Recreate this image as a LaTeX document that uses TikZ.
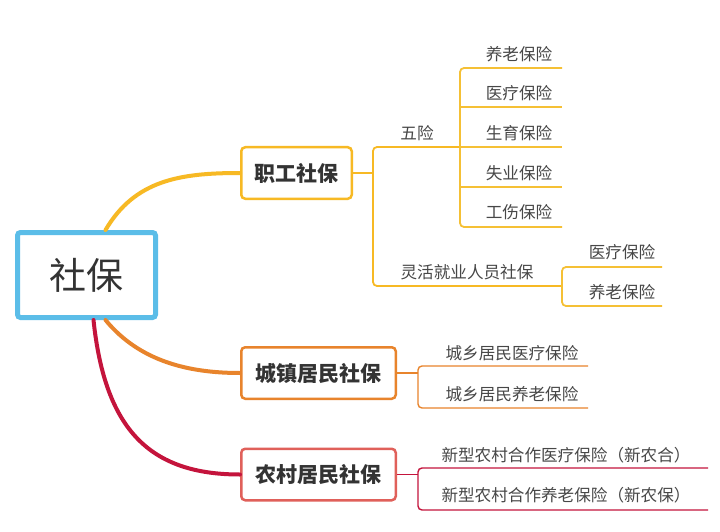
\documentclass[tikz,border=0pt]{standalone}
\usepackage{fontspec}
\setmainfont{Noto Sans CJK SC}
\usetikzlibrary{calc}
\definecolor{rootblue}{RGB}{91,189,232}
\definecolor{yl}{RGB}{247,185,36}
\definecolor{ylthin}{RGB}{245,192,53}
\definecolor{org}{RGB}{232,132,44}
\definecolor{salmon}{RGB}{224,96,90}
\definecolor{crim}{RGB}{196,20,60}
\definecolor{txt}{RGB}{51,51,51}
\tikzset{
  rootbox/.style={draw=rootblue, line width=5pt, rounded corners=3pt, minimum width=138pt, minimum height=85pt, text=txt, font=\fontsize{37}{40}\selectfont, inner sep=0pt},
  mainbox/.style={line width=2.5pt, rounded corners=4pt, minimum height=51.5pt, text=txt, font=\fontsize{21}{24}\selectfont\bfseries, inner sep=0pt},
  leaf/.style={text=txt!90, font=\fontsize{16.6}{18}\selectfont, inner sep=0pt},
  thick1/.style={line width=4pt, line cap=round},
  thin1/.style={line width=1.8pt, rounded corners=4pt},
  thin2/.style={line width=1.4pt, rounded corners=4pt},
}
\begin{document}
\begin{tikzpicture}[x=1pt,y=-1pt]
\useasboundingbox[fill=white] (0,0) rectangle (720,532);

% main nodes
\node[rootbox] (root) at (86.5,275) {社保};
\node[mainbox, draw=yl, minimum width=110.5pt] (zg) at (296.5,173) {职工社保};
\node[mainbox, draw=org, minimum width=154.5pt] (cz) at (318.5,373) {城镇居民社保};
\node[mainbox, draw=salmon, minimum width=154.5pt] (nc) at (318.5,474.5) {农村居民社保};

% root connectors
\draw[thick1, yl] ($(root.north)+(19,0)$) .. controls (135,180) and (180,173) .. (zg.west);
\draw[thick1, org] ($(root.south)+(19,0)$) .. controls (140,362) and (190,373) .. (cz.west);
\draw[thick1, crim] ($(root.south)+(7,0)$) .. controls (105,430) and (150,474.5) .. (nc.west);

% 职工社保 branch
\coordinate (j0) at (373,173);
\draw[thin1, yl] (zg.east) -- (j0);
\draw[thin1, yl] (460,147) -| (373,286) -- (562,286);
\node[leaf] (wx) at (417,133) {五险};
\node[leaf] (lh) at (467,272) {灵活就业人员社保};

% 五险 children
\node[leaf] (w1) at (519,54) {养老保险};
\node[leaf] (w2) at (519,93) {医疗保险};
\node[leaf] (w3) at (519,133) {生育保险};
\node[leaf] (w4) at (519,173) {失业保险};
\node[leaf] (w5) at (519,212) {工伤保险};
\draw[thin1, ylthin] (562,68) -| (460,227) -- (562,227);
\draw[thin1, ylthin] (460,107) -- (562,107);
\draw[thin1, ylthin] (460,147) -- (562,147);
\draw[thin1, ylthin] (460,187) -- (562,187);

% 灵活就业 children
\node[leaf] (l1) at (622,252) {医疗保险};
\node[leaf] (l2) at (622,292) {养老保险};
\draw[thin1, ylthin] (662,267) -| (562,306) -- (662,306);

% 城镇 branch
\draw[thin2, org] (cz.east) -- (418,373);
\draw[thin2, org] (588,366) -| (418,408) -- (588,408);
\node[leaf] (c1) at (512,353) {城乡居民医疗保险};
\node[leaf] (c2) at (512,394) {城乡居民养老保险};

% 农村 branch
\draw[thin2, crim] (nc.east) -- (418,474.5);
\draw[thin2, crim] (708,468) -| (418,510) -- (708,510);
\node[leaf] (n1) at (566,455) {新型农村合作医疗保险（新农合）};
\node[leaf] (n2) at (566,495) {新型农村合作养老保险（新农保）};
\end{tikzpicture}
\end{document}
